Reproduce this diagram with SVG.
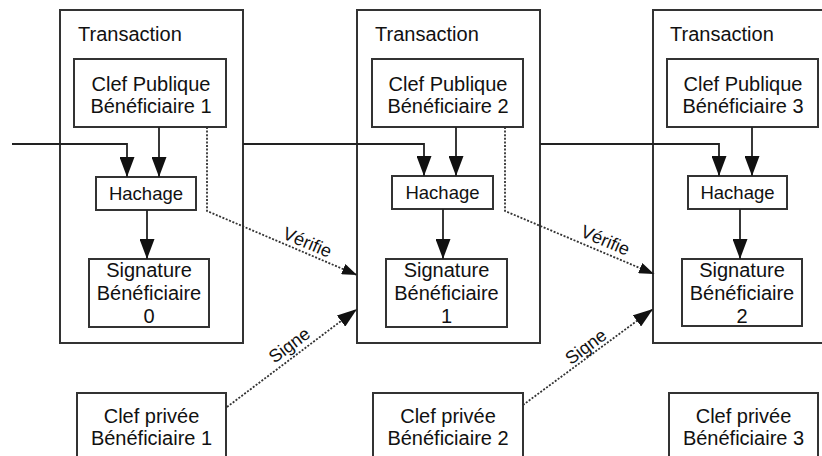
<svg xmlns="http://www.w3.org/2000/svg" width="822" height="456" viewBox="0 0 822 456">
<defs>
<style>
.tx{fill:none;stroke:#333;stroke-width:2}
.bx{fill:#fff;stroke:#333;stroke-width:2}
.t{font-family:"Liberation Sans",Arial,sans-serif;font-size:20px;fill:#111}
.h{font-size:18.5px}
.lbl{font-family:"Liberation Sans",Arial,sans-serif;font-size:18px;fill:#111}
.c{text-anchor:middle}
.solid{fill:none;stroke:#222;stroke-width:1.8;marker-end:url(#big)}
.dot{fill:none;stroke:#333;stroke-width:1.8;stroke-dasharray:2 1.6}
</style>
<marker id="big" markerUnits="userSpaceOnUse" markerWidth="20" markerHeight="15" refX="20" refY="7.5" orient="auto" viewBox="0 0 20 15"><path d="M0,0 L20,7.5 L0,15 z" fill="#111"/></marker>
<marker id="sm" markerUnits="userSpaceOnUse" markerWidth="15" markerHeight="11" refX="15" refY="5.5" orient="auto" viewBox="0 0 15 11"><path d="M0,0 L15,5.5 L0,11 z" fill="#111"/></marker>
<marker id="md" markerUnits="userSpaceOnUse" markerWidth="20" markerHeight="14" refX="20" refY="7" orient="auto" viewBox="0 0 20 14"><path d="M0,0 L20,7 L0,14 z" fill="#111"/></marker>
</defs>

<g id="tx1">
<rect class="tx" x="60" y="10" width="183" height="333"/>
<text class="t" x="78" y="41">Transaction</text>
</g>
<g id="tx2">
<rect class="tx" x="357" y="10" width="183" height="333"/>
<text class="t" x="375" y="41">Transaction</text>
</g>
<g id="tx3">
<rect class="tx" x="653" y="10" width="190" height="333"/>
<text class="t" x="670" y="41">Transaction</text>
</g>

<g id="pub1"><rect class="bx" x="74" y="59" width="152" height="68"/>
<text class="t c" x="151" y="91">Clef Publique</text><text class="t c" x="151" y="113">Bénéficiaire 1</text></g>
<g id="pub2"><rect class="bx" x="372" y="59" width="151" height="68"/>
<text class="t c" x="448" y="91">Clef Publique</text><text class="t c" x="448" y="113">Bénéficiaire 2</text></g>
<g id="pub3"><rect class="bx" x="667" y="59" width="151" height="68"/>
<text class="t c" x="743" y="91">Clef Publique</text><text class="t c" x="743" y="113">Bénéficiaire 3</text></g>

<g id="hash1"><rect class="bx" x="96" y="177" width="100" height="33"/>
<text class="t h c" x="146" y="200">Hachage</text></g>
<g id="hash2"><rect class="bx" x="392" y="176" width="101" height="33"/>
<text class="t h c" x="442.5" y="199">Hachage</text></g>
<g id="hash3"><rect class="bx" x="688" y="176" width="99" height="33"/>
<text class="t h c" x="737.5" y="199">Hachage</text></g>

<g id="sig0"><rect class="bx" x="89" y="259" width="120" height="68"/>
<text class="t c" x="149" y="277">Signature</text><text class="t c" x="149" y="300">Bénéficiaire</text><text class="t c" x="149" y="323">0</text></g>
<g id="sig1"><rect class="bx" x="386" y="259" width="121" height="68"/>
<text class="t c" x="446.5" y="277">Signature</text><text class="t c" x="446.5" y="300">Bénéficiaire</text><text class="t c" x="446.5" y="323">1</text></g>
<g id="sig2"><rect class="bx" x="682" y="259" width="120" height="67"/>
<text class="t c" x="742" y="277">Signature</text><text class="t c" x="742" y="300">Bénéficiaire</text><text class="t c" x="742" y="323">2</text></g>

<g id="priv1"><rect class="bx" x="77" y="393" width="149" height="80"/>
<text class="t c" x="151.5" y="423">Clef privée</text><text class="t c" x="151.5" y="445">Bénéficiaire 1</text></g>
<g id="priv2"><rect class="bx" x="373" y="393" width="150" height="80"/>
<text class="t c" x="448" y="423">Clef privée</text><text class="t c" x="448" y="445">Bénéficiaire 2</text></g>
<g id="priv3"><rect class="bx" x="669" y="393" width="149" height="80"/>
<text class="t c" x="743.5" y="423">Clef privée</text><text class="t c" x="743.5" y="445">Bénéficiaire 3</text></g>

<g id="connectors">
<polyline class="solid" points="12,144 127,144 127,177"/>
<line class="solid" x1="159" y1="127" x2="159" y2="177"/>
<line class="solid" x1="147" y1="210" x2="147" y2="259"/>
<polyline class="solid" points="243,144 424,144 424,176"/>
<line class="solid" x1="456" y1="127" x2="456" y2="176"/>
<line class="solid" x1="443" y1="209" x2="443" y2="259"/>
<polyline class="solid" points="540,144 719,144 719,176"/>
<line class="solid" x1="752" y1="127" x2="752" y2="176"/>
<line class="solid" x1="740" y1="209" x2="740" y2="259"/>

<polyline class="dot" points="207,127 207,211 357,275" marker-end="url(#sm)"/>
<polyline class="dot" points="505,127 505,211 654,274" marker-end="url(#sm)"/>
<line class="dot" x1="227" y1="407" x2="357" y2="309" marker-end="url(#md)"/>
<line class="dot" x1="523" y1="405" x2="653" y2="309" marker-end="url(#md)"/>

<text class="lbl c" transform="translate(305,248) rotate(23)">Vérifie</text>
<text class="lbl c" transform="translate(603,246) rotate(23)">Vérifie</text>
<text class="lbl c" transform="translate(293,350) rotate(-37)">Signe</text>
<text class="lbl c" transform="translate(589.5,351.5) rotate(-37)">Signe</text>
</g>
</svg>
